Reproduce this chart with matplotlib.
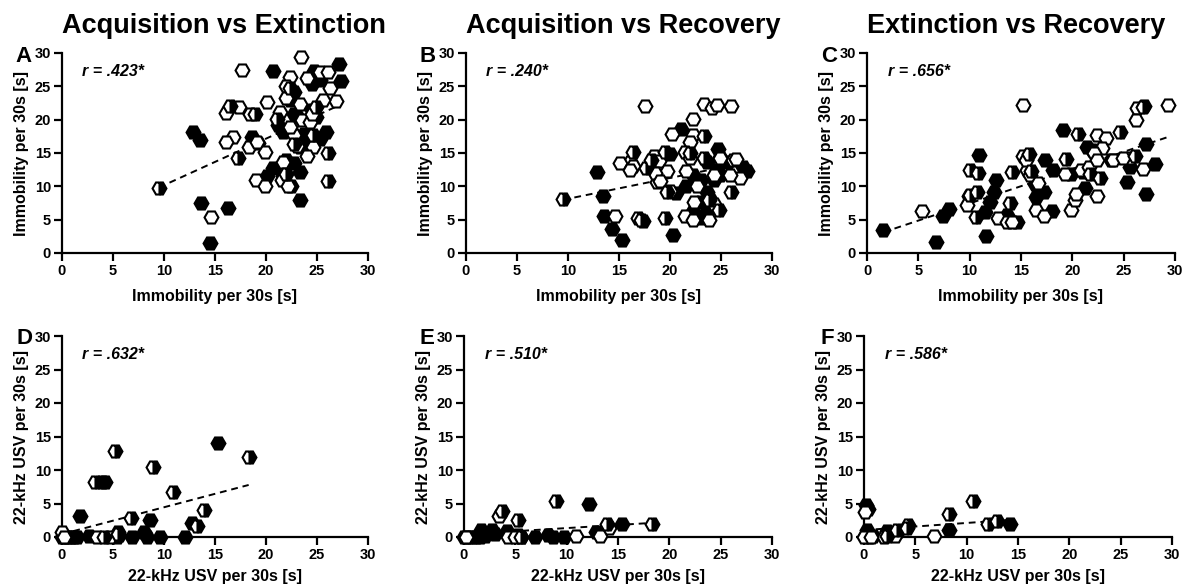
import numpy as np
import matplotlib
matplotlib.use("Agg")
import matplotlib.pyplot as plt

plt.rcParams['font.family'] = ['Liberation Sans', 'DejaVu Sans']
plt.rcParams['font.weight'] = 'bold'

# ---- data: (x, y) per animal, by group ----
A_FILLED = [(12.8, 18.1), (13.5, 16.9), (13.6, 7.5), (14.5, 1.5), (16.3, 6.7), (20.7, 27.3),
            (27.2, 28.3), (27.4, 25.8), (24.7, 27.3), (24.5, 25.4), (25.3, 26.0), (18.6, 17.4),
            (19.2, 16.5), (21.2, 19.2), (21.7, 18.2), (23.3, 8.0), (23.3, 12.2), (22.7, 13.5),
            (22.0, 14.0), (20.7, 12.7), (20.1, 11.6), (21.7, 11.6), (22.5, 10.1), (22.7, 24.2),
            (22.7, 20.9), (23.7, 17.9), (24.3, 16.9), (24.5, 21.4), (24.9, 20.4), (25.3, 17.1),
            (25.9, 18.1), (23.3, 15.9), (22.4, 23.0), (23.0, 20.5)]
A_OPEN = [(23.4, 29.4), (17.6, 27.4), (22.4, 26.4), (24.0, 26.3), (25.3, 27.2), (26.1, 27.2),
          (26.3, 24.8), (26.9, 22.8), (25.6, 22.9), (20.1, 22.7), (16.1, 21.0), (17.4, 21.9),
          (18.4, 20.8), (16.8, 17.4), (16.1, 16.6), (18.3, 15.9), (19.9, 15.2), (19.1, 16.6),
          (14.6, 5.4), (19.0, 10.9), (19.9, 10.1), (21.7, 13.7), (21.6, 11.0), (22.2, 10.1),
          (22.7, 17.7), (22.0, 25.0), (22.0, 23.2), (23.3, 22.3), (23.5, 20.0), (24.3, 19.7),
          (24.6, 15.9), (24.0, 14.6), (23.0, 16.1), (24.5, 20.9), (21.4, 21.1), (22.4, 18.9)]
A_HALF = [(16.5, 22.0), (18.9, 20.8), (17.3, 14.3), (9.5, 9.7), (26.1, 15.0), (26.1, 10.8),
          (22.7, 16.3), (22.0, 11.8), (21.1, 20.1), (24.9, 21.9), (22.4, 24.7), (24.6, 17.7)]

B_FILLED = [(12.8, 12.2), (13.4, 8.5), (13.5, 5.5), (14.3, 3.6), (15.3, 1.9), (20.3, 2.7),
            (20.0, 14.8), (21.1, 18.6), (20.6, 9.0), (24.7, 15.6), (24.9, 14.4), (27.2, 12.9),
            (27.5, 12.3), (23.0, 10.9), (23.6, 9.1), (23.9, 8.1), (23.0, 7.6), (22.3, 6.3),
            (23.0, 5.3), (23.6, 6.3), (24.6, 12.5), (24.3, 10.9), (24.9, 11.7), (22.3, 11.7),
            (23.6, 13.7), (25.7, 13.7), (21.6, 10.0), (17.4, 4.8)]
B_OPEN = [(17.5, 22.0), (23.3, 22.3), (24.1, 21.8), (24.6, 22.2), (26.0, 22.0), (22.3, 20.1),
          (20.2, 17.8), (22.3, 17.7), (22.0, 16.7), (16.1, 13.6), (15.1, 13.5), (16.4, 13.0),
          (16.1, 12.4), (18.4, 14.5), (18.9, 13.8), (18.7, 10.7), (19.7, 12.3), (18.5, 12.0),
          (14.6, 5.6), (20.0, 9.3), (19.0, 10.8), (21.6, 12.3), (21.5, 15.2), (22.6, 10.0),
          (22.4, 7.6), (21.5, 5.5), (22.3, 4.9), (23.8, 4.9), (24.3, 7.3), (26.2, 13.9),
          (26.5, 14.1), (26.9, 11.3), (25.9, 11.7), (24.9, 14.2), (22.0, 14.2), (24.3, 11.7)]
B_HALF = [(9.5, 8.1), (16.4, 15.1), (18.1, 13.9), (17.6, 12.7), (19.5, 15.1), (16.9, 5.3),
          (17.2, 5.0), (19.5, 5.3), (23.3, 17.5), (23.3, 14.3), (26.0, 9.1), (24.8, 6.5),
          (23.8, 7.9), (22.0, 15.0), (19.7, 9.1)]

C_FILLED = [(1.6, 3.5), (6.7, 1.6), (7.4, 5.6), (8.0, 6.6), (10.9, 14.7), (11.6, 2.5),
            (11.5, 6.2), (12.0, 7.7), (12.4, 9.2), (12.6, 10.9), (13.6, 5.7), (14.6, 4.7),
            (16.5, 8.4), (17.2, 9.2), (17.3, 14.0), (18.0, 6.3), (18.1, 12.5), (19.1, 18.5),
            (19.9, 11.8), (21.0, 12.2), (21.4, 15.9), (21.9, 15.4), (23.8, 13.9), (25.3, 10.7),
            (25.6, 12.9), (27.2, 16.3), (27.2, 8.9), (28.1, 13.4), (21.2, 9.7), (16.4, 10.4)]
C_OPEN = [(5.4, 6.3), (15.2, 22.2), (29.3, 22.2), (26.3, 21.7), (26.2, 20.0), (22.4, 17.7),
          (23.3, 17.3), (22.9, 15.7), (24.0, 14.0), (25.6, 14.2), (26.9, 12.6), (22.4, 8.5),
          (9.9, 8.5), (9.7, 7.2), (12.8, 5.2), (13.6, 4.7), (14.1, 4.7), (15.6, 12.4),
          (15.9, 11.7), (16.7, 10.5), (16.5, 6.5), (17.2, 5.5), (19.9, 6.5), (20.3, 7.9),
          (20.4, 8.9), (20.8, 12.4), (19.3, 11.8), (21.6, 12.9), (22.1, 15.0), (22.4, 14.0),
          (15.2, 14.5), (15.5, 14.0), (24.9, 14.2), (27.0, 22.0)]
C_HALF = [(10.0, 12.5), (10.8, 12.0), (10.7, 9.2), (10.0, 8.7), (10.6, 5.4), (13.9, 7.5),
          (14.1, 12.2), (15.8, 14.8), (19.4, 14.1), (20.6, 17.9), (24.6, 18.2), (21.7, 11.8),
          (22.7, 11.3), (26.1, 14.5), (16.0, 12.3), (26.9, 21.9)]

D_FILLED = [(15.3, 14.1), (1.8, 3.2), (3.9, 8.2), (4.2, 8.2), (8.6, 2.5), (12.7, 2.1), (5.5, 0.8),
            (8.0, 0.8), (2.6, 0.2), (0.0, 0.0), (0.3, 0.0), (0.6, 0.0), (0.9, 0.0), (1.2, 0.0),
            (1.5, 0.0), (5.4, 0.0), (6.9, 0.0), (9.6, 0.0), (12.1, 0.0), (8.3, 0.0), (5.6, 0.3)]
D_OPEN = [(3.4, 0.0), (4.7, 0.0), (0.0, 0.7), (0.2, 0.0)]
D_HALF = [(5.2, 12.9), (8.9, 10.5), (10.9, 6.7), (13.9, 4.1), (13.2, 1.7), (6.8, 2.9),
          (18.3, 12.0), (3.2, 8.2), (4.1, 0.0), (5.5, 0.5)]

E_FILLED = [(12.2, 5.0), (15.4, 2.0), (12.9, 0.8), (9.7, 0.0), (8.2, 0.3), (8.7, 0.0), (6.9, 0.0),
            (5.6, 0.0), (4.2, 0.9), (1.7, 1.0), (2.7, 1.0), (0.0, 0.0), (0.4, 0.0), (0.8, 0.0),
            (1.2, 0.0), (1.6, 0.0), (2.0, 0.2), (3.0, 0.5), (5.3, 0.3)]
E_OPEN = [(3.4, 3.2), (14.1, 1.3), (13.2, 0.1), (10.9, 0.1), (4.3, 0.0), (5.0, 0.0), (0.2, 0.0)]
E_HALF = [(9.0, 5.3), (3.7, 3.9), (5.3, 2.5), (18.3, 1.9), (13.9, 2.0), (5.6, 0.0)]

F_FILLED = [(14.2, 2.0), (8.3, 1.0), (0.2, 4.8), (0.4, 4.2), (2.2, 0.9), (0.3, 1.0), (0.9, 0.2),
            (0.1, 0.2), (0.5, 0.0), (2.6, 0.4), (3.3, 0.9)]
F_OPEN = [(6.8, 0.1), (0.1, 3.7), (3.0, 0.1), (1.9, 0.0), (0.0, 0.0), (0.7, 0.0)]
F_HALF = [(10.6, 5.3), (8.3, 3.4), (13.0, 2.4), (12.1, 1.9), (4.3, 1.8), (4.2, 1.3),
          (3.2, 1.1), (2.2, 0.1)]

TITLES = ['Acquisition vs Extinction', 'Acquisition vs Recovery', 'Extinction vs Recovery']
LETTERS = ['A', 'B', 'C', 'D', 'E', 'F']
R_LABELS = ['.423*', '.240*', '.656*', '.632*', '.510*', '.586*']
TOP_LABEL = 'Immobility per 30s [s]'
BOTTOM_LABEL = '22-kHz USV per 30s [s]'
TICKS = [0, 5, 10, 15, 20, 25, 30]

panels = [(A_FILLED, A_OPEN, A_HALF), (B_FILLED, B_OPEN, B_HALF), (C_FILLED, C_OPEN, C_HALF),
          (D_FILLED, D_OPEN, D_HALF), (E_FILLED, E_OPEN, E_HALF), (F_FILLED, F_OPEN, F_HALF)]

W, H = 1189, 587
fig = plt.figure(figsize=(W / 100, H / 100), dpi=100)

# axes boxes in pixels: left, right, top, bottom
boxes = [(62, 368, 53, 253), (466, 772, 53, 253), (867, 1175, 53, 253),
         (62, 368, 336, 537), (464, 772, 336, 537), (864, 1172, 336, 537)]

for i, ((filled, opened, half), (l, r, t, b)) in enumerate(zip(panels, boxes)):
    ax = fig.add_axes([l / W, 1 - b / H, (r - l) / W, (b - t) / H])
    for s in ['top', 'right']:
        ax.spines[s].set_visible(False)
    for s in ['left', 'bottom']:
        ax.spines[s].set_linewidth(1.6)
    ax.set_xlim(0, 30)
    ax.set_ylim(0, 30)
    ax.set_xticks(TICKS)
    ax.set_yticks(TICKS)
    ax.tick_params(direction='out', length=6, width=1.6, labelsize=10.5, pad=2)
    for lab in ax.get_xticklabels() + ax.get_yticklabels():
        lab.set_fontweight('bold')

    # regression line over all animals
    allpts = np.array(filled + opened + half)
    k, c = np.polyfit(allpts[:, 0], allpts[:, 1], 1)
    xs = np.array([allpts[:, 0].min(), allpts[:, 0].max()])
    ax.plot(xs, k * xs + c, color='black', lw=1.4, ls=(0, (3.5, 2.5)), zorder=2)

    style = dict(marker='H', ms=10, mew=1.5, mec='black', ls='none', clip_on=False, zorder=3)
    f = np.array(filled)
    ax.plot(f[:, 0], f[:, 1], mfc='black', **style)
    o = np.array(opened)
    ax.plot(o[:, 0], o[:, 1], mfc='white', **style)
    h = np.array(half)
    ax.plot(h[:, 0], h[:, 1], mfc='black', mfcalt='white', fillstyle='right', **style)

    ax.text(2.0, 27.3, 'r = ' + R_LABELS[i], fontsize=11.5, fontweight='bold', style='italic',
            ha='left', va='center')
    label = TOP_LABEL if i < 3 else BOTTOM_LABEL
    ax.set_xlabel(label, fontsize=11.5, fontweight='bold', labelpad=8 if i < 3 else 5)
    ax.set_ylabel(label, fontsize=11.5, fontweight='bold', labelpad=4)

    fig.text((l - 30) / W, 1 - (t + 3) / H, LETTERS[i], fontsize=16, fontweight='bold',
             ha='right', va='center')
    if i < 3:
        fig.text(l / W, 1 - 33 / H, TITLES[i], fontsize=19.5, fontweight='bold',
                 ha='left', va='baseline')

fig.savefig('out.png', dpi=100)
